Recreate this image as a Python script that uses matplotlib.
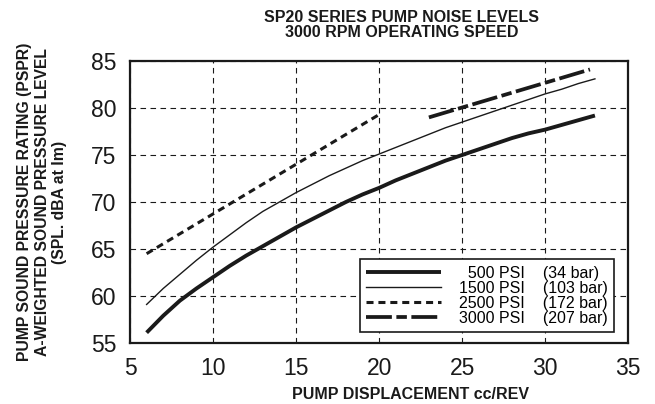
import numpy as np
import matplotlib
matplotlib.use('Agg')
import matplotlib.pyplot as plt

plt.rcParams['font.family'] = ['Liberation Sans', 'DejaVu Sans']

# displacement (cc/rev) and sound level (dBA)
disp_500 = [6, 7, 8, 9, 10, 11, 12, 13, 14, 15, 16, 17, 18, 19, 20,
            21, 22, 23, 24, 25, 26, 27, 28, 29, 30, 31, 32, 33]
spl_500 = [56.1, 57.9, 59.5, 60.8, 62.0, 63.2, 64.3, 65.3, 66.3, 67.3, 68.2, 69.1, 70.0, 70.8, 71.5,
           72.3, 73.0, 73.7, 74.4, 75.0, 75.6, 76.2, 76.8, 77.3, 77.7, 78.2, 78.7, 79.2]
disp_1500 = [6, 7, 8, 9, 10, 11, 12, 13, 14, 15, 16, 17, 18, 19, 20,
             21, 22, 23, 24, 25, 26, 27, 28, 29, 30, 31, 32, 33]
spl_1500 = [59.1, 60.8, 62.3, 63.8, 65.2, 66.5, 67.8, 69.0, 70.0, 71.0, 71.9, 72.8, 73.6, 74.4, 75.1,
            75.8, 76.5, 77.2, 77.9, 78.5, 79.1, 79.7, 80.3, 80.9, 81.5, 82.0, 82.6, 83.1]
disp_2500 = [6, 20]
spl_2500 = [64.5, 79.3]
disp_3000 = [23, 32.7]
spl_3000 = [79.0, 84.1]

psi_labels = ['500 PSI', '1500 PSI', '2500 PSI', '3000 PSI']
bar_labels = ['(34 bar)', '(103 bar)', '(172 bar)', '(207 bar)']

xticks = [5, 10, 15, 20, 25, 30, 35]
yticks = [55, 60, 65, 70, 75, 80, 85]

ink = '#1a1a1a'

fig = plt.figure(figsize=(6.55, 4.04), dpi=100)
ax = fig.add_axes([0.1985, 0.151, 0.7605, 0.698])

labels = []
for p, b in zip(psi_labels, bar_labels):
    pad = '\u2007' * (8 - len(p))
    labels.append(pad + p + '    ' + b)

ax.plot(disp_500, spl_500, color=ink, lw=2.8, solid_capstyle='butt', label=labels[0])
ax.plot(disp_1500, spl_1500, color=ink, lw=1.0, label=labels[1])
ax.plot(disp_2500, spl_2500, color=ink, lw=2.2, linestyle=(0, (2.3, 1.6)), label=labels[2])
ax.plot(disp_3000, spl_3000, color=ink, lw=2.7, linestyle=(0, (6.9, 1.2, 2.8, 1.2)), label=labels[3])

ax.set_xlim(5, 35)
ax.set_ylim(55, 85)
ax.set_xticks(xticks)
ax.set_yticks(yticks)
ax.tick_params(length=0, labelsize=16.5, pad=10, colors=ink)
ax.grid(True, color=ink, lw=0.8, linestyle=(0, (5, 4)))
for s in ax.spines.values():
    s.set_linewidth(1.6)
    s.set_color(ink)

ax.set_xlabel('PUMP DISPLACEMENT cc/REV', fontsize=11.5, fontweight='bold', labelpad=7, color=ink)
ax.xaxis.set_label_coords(0.563, -0.155)
ax.set_ylabel('PUMP SOUND PRESSURE RATING (PSPR)\nA-WEIGHTED SOUND PRESSURE LEVEL\n(SPL. dBA at Im)',
              fontsize=11.3, fontweight='bold', labelpad=17, linespacing=1.2, color=ink)
ax.set_title('SP20 SERIES PUMP NOISE LEVELS\n3000 RPM OPERATING SPEED',
             fontsize=11.5, fontweight='bold', pad=17, linespacing=1.05, color=ink, x=0.545)

leg = ax.legend(loc='lower right', bbox_to_anchor=(0.972, 0.039), fontsize=11.5,
                handlelength=4.7, handletextpad=1.1, labelspacing=0.0,
                borderpad=0.4, borderaxespad=0, fancybox=False, framealpha=1)
leg.get_frame().set_edgecolor(ink)
leg.get_frame().set_linewidth(1.2)

fig.savefig('out.png', dpi=100)
